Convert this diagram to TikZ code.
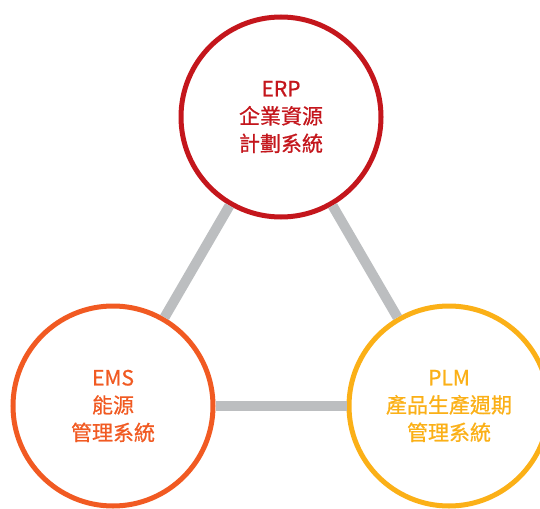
\documentclass[tikz,border=0pt]{standalone}
\usepackage{fontspec}
\newfontfamily\cjk[FakeBold=0.7]{Noto Sans CJK TC}
\usetikzlibrary{calc}

\definecolor{erpred}{HTML}{C4161C}
\definecolor{emsorange}{HTML}{F15A22}
\definecolor{plmamber}{HTML}{FBB017}
\definecolor{linkgray}{HTML}{BCBEC0}

\tikzset{
  sys/.style={circle, draw=#1, text=#1, line width=5pt, fill=white,
    minimum size=200pt, inner sep=0pt, align=center,
    font=\cjk\fontsize{21}{27.5}\selectfont},
  link/.style={draw=linkgray, line width=10pt}
}

\begin{document}
\begin{tikzpicture}[x=1pt, y=-1pt]
      \useasboundingbox (0,0) rectangle (540,508);

      %% Systems
      \node[sys=erpred] (ERP) at (281,117) {ERP\\企業資源\\計劃系統};
      \node[sys=emsorange] (EMS) at (113,406) {EMS\\能源\\管理系統};
      \node[sys=plmamber] (PLM) at (449,406) {PLM\\產品生產週期\\管理系統};

      %% Links
      \draw[link] (ERP) -- (EMS);
      \draw[link] (ERP) -- (PLM);
      \draw[link] (EMS) -- (PLM);

    \end{tikzpicture}
\end{document}
